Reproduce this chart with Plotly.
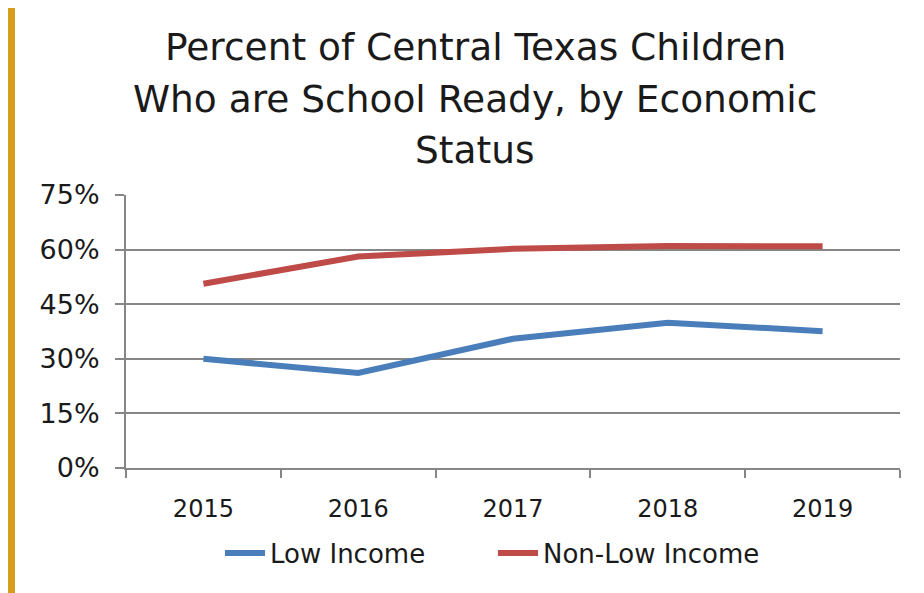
import plotly.graph_objects as go

# Data
YEARS = ["2015", "2016", "2017", "2018", "2019"]
LOW_INCOME = [30.0, 26.1, 35.5, 39.9, 37.6]
NON_LOW_INCOME = [50.6, 58.1, 60.2, 61.0, 60.9]
SERIES_NAMES = ["Low Income", "Non-Low Income"]
TITLE_LINES = ["Percent of Central Texas Children",
               "Who are School Ready, by Economic",
               "Status"]

BLUE = "#4a7ebb"
RED = "#be4b48"
GRID = "#868686"
GOLD = "#d69d1e"
FONT = "DejaVu Sans"

# the page body adds an 8px margin, so the figure is drawn 8px smaller
OFF = 8
W, H = 924 - OFF, 593 - OFF
M_L, M_R, M_T, M_B = 118, 24, 187, 125
PW = W - M_L - M_R
PH = H - M_T - M_B


def px_x(px):
  # screen pixel (reference coords) -> paper fraction
  return (px - OFF - M_L) / PW


def px_y(py):
  return (H - M_B - (py - OFF)) / PH


fig = go.Figure()

for name, values, color in [
  (SERIES_NAMES[0], LOW_INCOME, BLUE),
  (SERIES_NAMES[1], NON_LOW_INCOME, RED),
]:
  fig.add_trace(
    go.Scatter(
      x=YEARS,
      y=values,
      mode="lines",
      name=name,
      line=dict(color=color, width=6),
    )
  )

# Title as three centred lines
title_centres = [47, 99, 150]
for text, py in zip(TITLE_LINES, title_centres):
  fig.add_annotation(
    text=text,
    xref="paper", yref="paper",
    x=px_x(475), y=px_y(py),
    xanchor="center", yanchor="middle",
    showarrow=False,
    font=dict(family=FONT, size=37.5, color="#1a1a1a"),
  )

# Gold strip on the left edge
fig.add_shape(type="rect", xref="paper", yref="paper",
              x0=px_x(OFF), x1=px_x(15), y0=px_y(593), y1=px_y(OFF),
              fillcolor=GOLD, line_width=0, layer="above")

fig.update_layout(
  width=W,
  height=H,
  margin=dict(l=M_L, r=M_R, t=M_T, b=M_B),
  paper_bgcolor="white",
  plot_bgcolor="white",
  font=dict(family=FONT, color="#1a1a1a"),
  showlegend=True,
  legend=dict(
    orientation="h",
    x=px_x(220), y=px_y(553),
    xanchor="left", yanchor="middle",
    font=dict(size=26, color="#1a1a1a"),
    itemwidth=40,
    entrywidth=218,
    tracegroupgap=0,
  ),
)

fig.update_xaxes(
  type="category",
  range=[-0.5, len(YEARS) - 0.5],
  showgrid=False,
  showline=True,
  linecolor=GRID,
  linewidth=2,
  ticks="outside",
  tickson="boundaries",
  ticklen=8,
  tickwidth=2,
  tickcolor=GRID,
  tickfont=dict(size=24),
  ticklabelstandoff=18,
  fixedrange=True,
)

fig.update_yaxes(
  range=[0, 75],
  dtick=15,
  ticksuffix="%",
  showgrid=True,
  gridcolor=GRID,
  gridwidth=2,
  zeroline=False,
  showline=True,
  linecolor=GRID,
  linewidth=2,
  ticks="outside",
  ticklen=9,
  tickwidth=2,
  tickcolor=GRID,
  tickfont=dict(size=27),
  ticklabelstandoff=10,
  fixedrange=True,
)

fig.write_html("out.html")
